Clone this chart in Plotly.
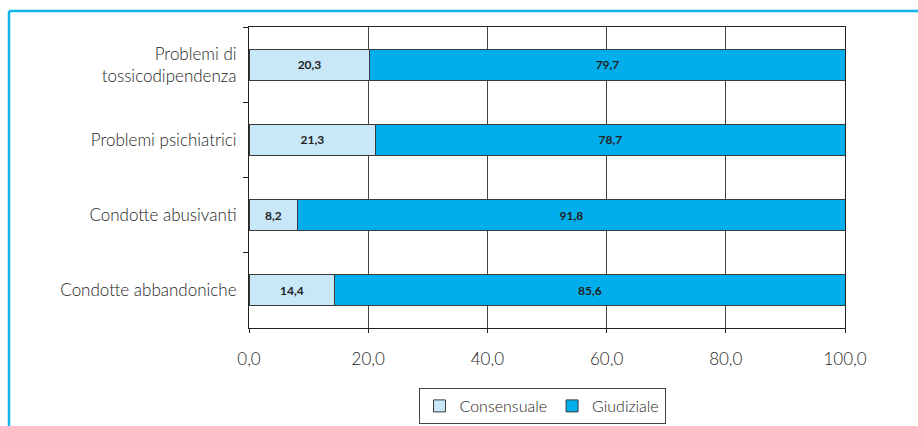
import plotly.graph_objects as go

categorie = [
    "Problemi di<br>tossicodipendenza",
    "Problemi psichiatrici",
    "Condotte abusivanti",
    "Condotte abbandoniche",
]
consensuale = [20.3, 21.3, 8.2, 14.4]
giudiziale = [79.7, 78.7, 91.8, 85.6]
tick_valori = [0, 20, 40, 60, 80, 100]

W, H = 918, 426
ML, MR, MT, MB = 249, 73, 27, 98
pw, ph = W - ML - MR, H - MT - MB
FONT = "Lato"
TXT = "#1e1e1e"


def px_x(p):
    return (p - ML) / pw


def px_y(p):
    return (H - MB - p) / ph


fig = go.Figure()
fig.add_trace(go.Bar(
    y=categorie, x=consensuale, name="Consensuale", orientation="h",
    marker=dict(color="#c8e8f8", line=dict(color="#3a3a3a", width=1)),
    texttemplate="%{x:.1f}", textposition="inside", insidetextanchor="middle",
    textfont=dict(size=12, color="#222222", family=FONT, weight="bold"),
))
fig.add_trace(go.Bar(
    y=categorie, x=giudiziale, name="Giudiziale", orientation="h",
    marker=dict(color="#00aeeb", line=dict(color="#3a3a3a", width=1)),
    texttemplate="%{x:.1f}", textposition="inside", insidetextanchor="middle",
    textfont=dict(size=12, color="#222222", family=FONT, weight="bold"),
))

fig.update_layout(
    barmode="stack",
    bargap=0.59,
    width=W, height=H,
    margin=dict(l=ML, r=MR, t=MT, b=MB, autoexpand=False),
    separators=",.",
    paper_bgcolor="white",
    plot_bgcolor="white",
    font=dict(family=FONT, size=17, color=TXT, weight=300),
    showlegend=True,
    legend=dict(
        orientation="h", traceorder="normal",
        x=px_x(542), xanchor="center",
        y=px_y(388), yanchor="top",
        bordercolor="#444444", borderwidth=1,
        font=dict(size=16, color=TXT, weight=300),
        itemwidth=30, tracegroupgap=0,
    ),
    shapes=[
        dict(type="line", xref="paper", yref="paper",
             x0=px_x(9), x1=px_x(W + 10), y0=px_y(11), y1=px_y(11),
             line=dict(color="#12b4ec", width=2.5)),
        dict(type="line", xref="paper", yref="paper",
             x0=px_x(9), x1=px_x(9), y0=px_y(11), y1=px_y(H + 10),
             line=dict(color="#12b4ec", width=2.5)),
    ],
)

fig.update_xaxes(
    range=[0, 100], tickvals=tick_valori, tickformat=".1f",
    showgrid=True, gridcolor="#444444", gridwidth=1,
    showline=True, linecolor="#222222", linewidth=1, mirror=True,
    ticks="outside", ticklen=4, tickcolor="#222222",
    zeroline=False, tickfont=dict(size=17, color=TXT, weight=300),
    ticklabelstandoff=12,
)
fig.update_yaxes(
    categoryorder="array", categoryarray=categorie, autorange="reversed",
    showline=True, linecolor="#222222", linewidth=1, mirror=True,
    ticks="outside", tickson="boundaries", ticklen=5, tickcolor="#222222",
    showgrid=False, tickfont=dict(size=17, color=TXT, weight=300),
    ticklabelstandoff=8,
)

fig.write_html("out.html")
